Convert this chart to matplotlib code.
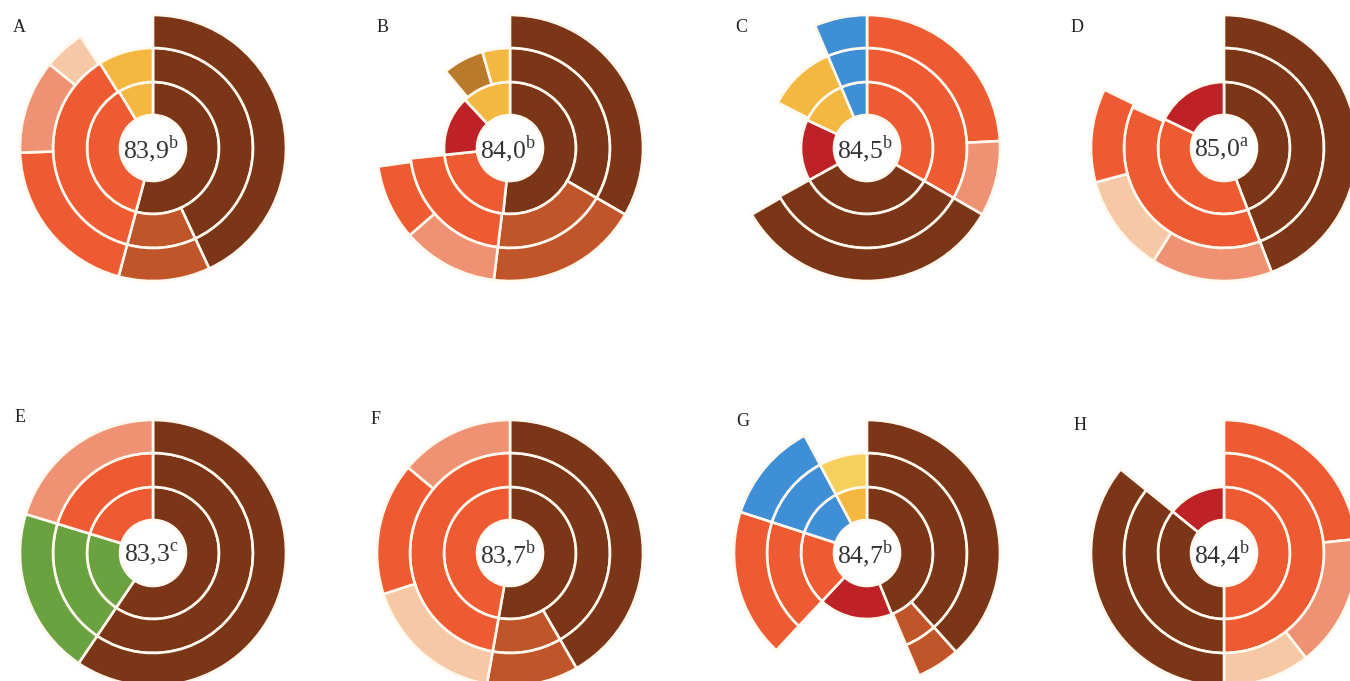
import matplotlib
matplotlib.use("Agg")
import matplotlib.pyplot as plt
from matplotlib.patches import Wedge

plt.rcParams["mathtext.fontset"] = "custom"
plt.rcParams["mathtext.rm"] = "Liberation Serif"

# Palette
BROWN = "#7B3517"
ORANGE = "#EE5B33"
SIENNA = "#C0552A"
SALMON = "#EF9274"
PEACH = "#F6C8A5"
YELLOW = "#F4B73F"
PALE_YELLOW = "#F6D05C"
GOLD = "#B97A2C"
RED = "#BE2126"
BLUE = "#3F8FD6"
GREEN = "#69A23F"
GAP = None

# Segment sweeps in degrees, clockwise from 12 o'clock: inner, middle, outer ring
rings_a = [
    [(195, BROWN), (134, ORANGE), (31, YELLOW)],
    [(155, BROWN), (40, SIENNA), (133, ORANGE), (32, YELLOW)],
    [(155, BROWN), (40, SIENNA), (73, ORANGE), (41, SALMON), (18, PEACH), (33, GAP)],
]
rings_b = [
    [(186, BROWN), (78, ORANGE), (53, RED), (43, YELLOW)],
    [(120, BROWN), (67, SIENNA), (77, ORANGE), (56, GAP), (24, GOLD), (16, YELLOW)],
    [(120, BROWN), (67, SIENNA), (42, SALMON), (33, ORANGE), (98, GAP)],
]
rings_c = [
    [(120, ORANGE), (121, BROWN), (54, RED), (42, YELLOW), (23, BLUE)],
    [(120, ORANGE), (121, BROWN), (56, GAP), (40, YELLOW), (23, BLUE)],
    [(87, ORANGE), (33, SALMON), (120, BROWN), (97, GAP), (23, BLUE)],
]
rings_d = [
    [(159, BROWN), (137, ORANGE), (64, RED)],
    [(159, BROWN), (135, ORANGE), (66, GAP)],
    [(159, BROWN), (53, SALMON), (43, PEACH), (41, ORANGE), (64, GAP)],
]
rings_e = [
    [(214, BROWN), (73, GREEN), (73, ORANGE)],
    [(214, BROWN), (73, GREEN), (73, ORANGE)],
    [(214, BROWN), (73, GREEN), (73, SALMON)],
]
rings_f = [
    [(190, BROWN), (170, ORANGE)],
    [(150, BROWN), (40, SIENNA), (170, ORANGE)],
    [(150, BROWN), (40, SIENNA), (62, PEACH), (58, ORANGE), (50, SALMON)],
]
rings_g = [
    [(158, BROWN), (65, RED), (65, ORANGE), (44, BLUE), (28, YELLOW)],
    [(138, BROWN), (19, SIENNA), (66, GAP), (65, ORANGE), (44, BLUE), (28, PALE_YELLOW)],
    [(138, BROWN), (19, SIENNA), (66, GAP), (65, ORANGE), (44, BLUE), (28, GAP)],
]
rings_h = [
    [(180, ORANGE), (129, BROWN), (51, RED)],
    [(180, ORANGE), (129, BROWN), (51, GAP)],
    [(84, ORANGE), (58, SALMON), (38, PEACH), (129, BROWN), (51, GAP)],
]

panel_letters = ["A", "B", "C", "D", "E", "F", "G", "H"]
scores = ["83,9", "84,0", "84,5", "85,0", "83,3", "83,7", "84,7", "84,4"]
score_groups = ["b", "b", "b", "a", "c", "b", "b", "b"]
panel_rings = [rings_a, rings_b, rings_c, rings_d, rings_e, rings_f, rings_g, rings_h]

# Layout (pixel coordinates of the canvas)
W, H = 1350, 681
col_x = [153, 510, 867, 1224]
row_y = [148, 553]
letter_pos = [(19, 27), (383, 27), (741, 27), (1077, 27),
              (20, 417), (376, 419), (743, 421), (1080, 425)]
radii = [33, 66, 100, 133]
EDGE = "#FFF8EE"
LW = 1.9

fig = plt.figure(figsize=(W / 100, H / 100), dpi=100)
ax = fig.add_axes([0, 0, 1, 1])
ax.set_xlim(0, W)
ax.set_ylim(H, 0)
ax.axis("off")


def draw_ring(cx, cy, r_in, r_out, segments):
    start = 0.0
    for sweep, color in segments:
        if color is not None:
            ax.add_patch(Wedge((cx, cy), r_out, start - 90, start + sweep - 90,
                               width=r_out - r_in, facecolor=color,
                               edgecolor=EDGE, linewidth=LW))
        start += sweep


for i, rings in enumerate(panel_rings):
    cx = col_x[i % 4]
    cy = row_y[i // 4]
    for k, segs in enumerate(rings):
        draw_ring(cx, cy, radii[k], radii[k + 1], segs)
    ax.text(cx - 2, cy + 1, scores[i] + r"$^{\mathrm{" + score_groups[i] + "}}$",
            ha="center", va="center", fontsize=18.5, family="Liberation Serif",
            color="#333333")
    lx, ly = letter_pos[i]
    ax.text(lx, ly, panel_letters[i], ha="center", va="center", fontsize=13,
            family="Liberation Serif", color="#222222")

fig.savefig("out.png", dpi=100)
